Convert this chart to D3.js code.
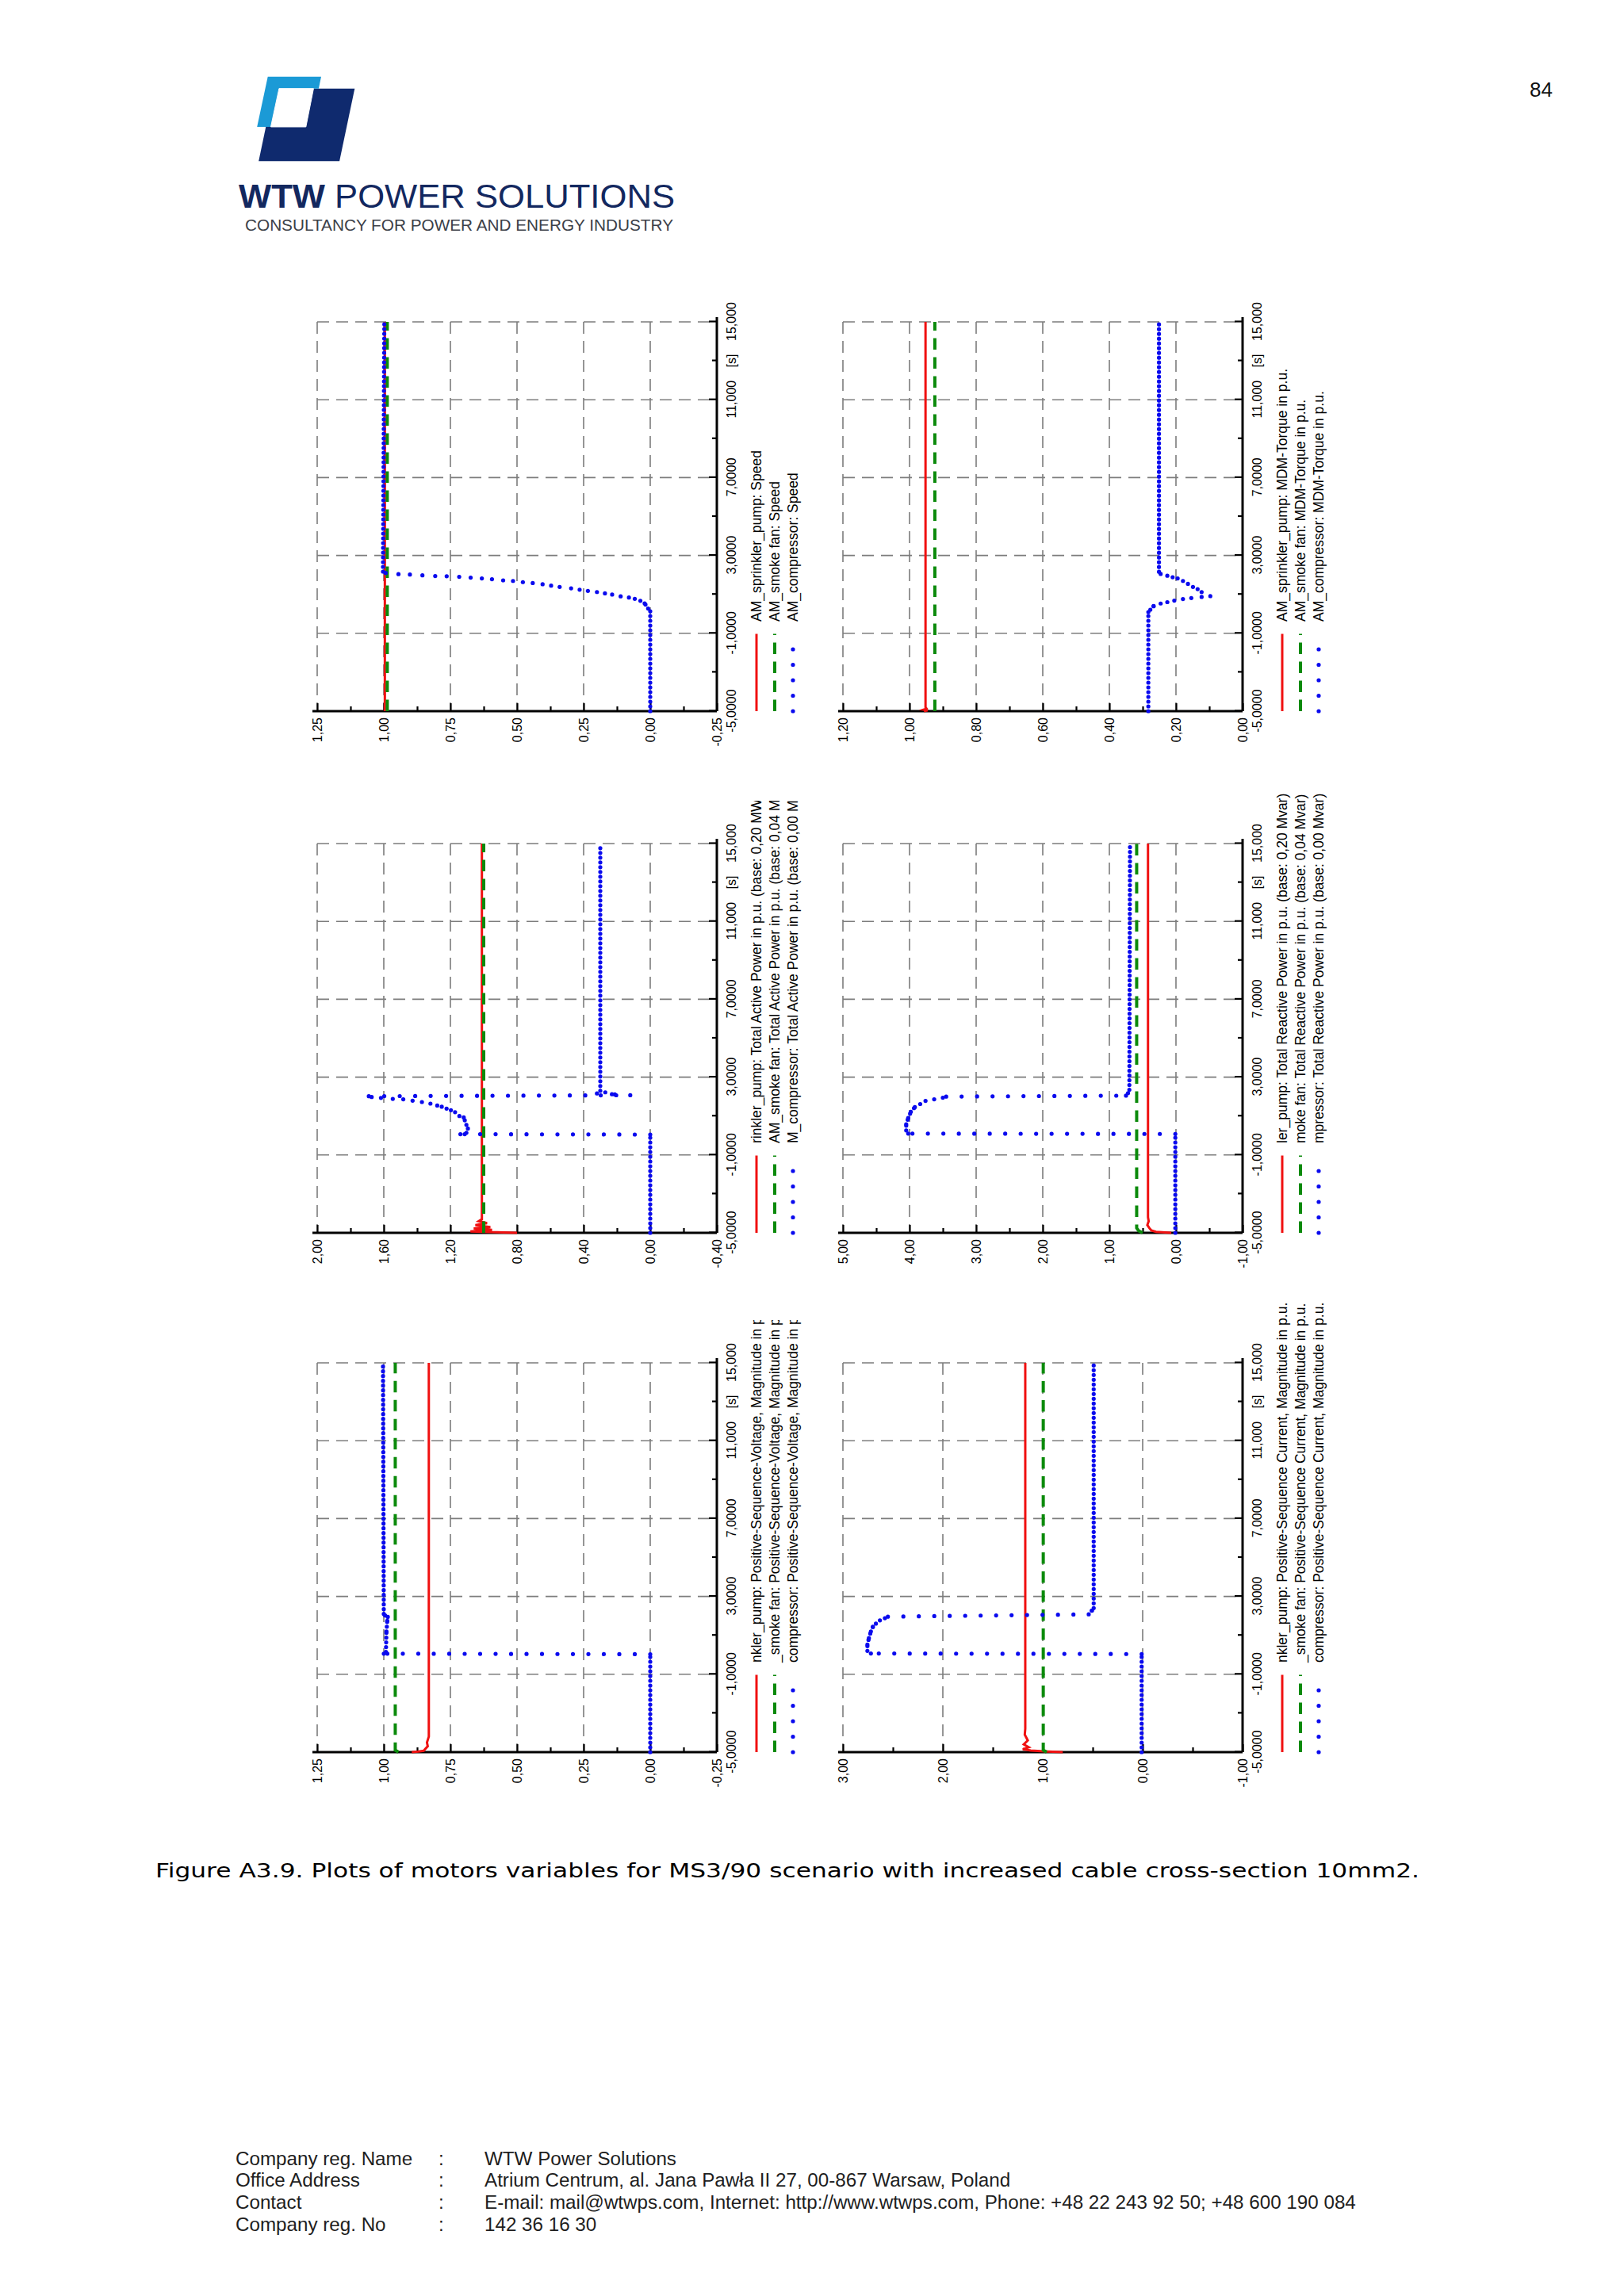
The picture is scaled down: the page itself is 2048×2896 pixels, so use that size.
<!DOCTYPE html>
<html>
<head>
<meta charset="utf-8">
<script src="https://cdn.jsdelivr.net/npm/d3@7"></script>
<style>
body { margin: 0; background: #fff; }
svg text { font-family: "Liberation Sans", Arial, sans-serif; }
</style>
</head>
<body>
<svg id="page" width="2048" height="2896"></svg>
<script>

// time axis, the same for all six plots
var timeTicks = [-5, -1, 3, 7, 11, 15]
var timeTickLabels = ["-5,0000", "-1,0000", "3,0000", "7,0000", "11,000", "15,000"]
var timeMinor = [-3, 1, 5, 9, 13]

// plot 1 - speed
var speedTicks = [-0.25, 0, 0.25, 0.5, 0.75, 1, 1.25]
var speedLabels = ["-0,25", "0,00", "0,25", "0,50", "0,75", "1,00", "1,25"]
var speedLegend = ["AM_sprinkler_pump: Speed", "AM_smoke fan: Speed", "AM_compressor: Speed"]
var speedPumpT = [-5, 15]
var speedPumpV = [0.996, 0.996]
var speedFanT = [-5, 15]
var speedFanV = [0.987, 0.987]
var speedCompT = [-5, 0.13, 0.27, 0.54, 0.67, 0.77, 0.84, 0.90, 0.99, 1.05, 1.12, 1.18, 1.24, 1.31, 1.38, 1.45, 1.52, 1.58, 1.63, 1.69, 1.72, 1.78, 1.82, 1.86, 1.90, 1.93, 1.94, 1.98, 2.02, 2.04, 2.10, 2.17, 15]
var speedCompV = [0, 0, 0.008, 0.021, 0.037, 0.058, 0.08, 0.111, 0.143, 0.17, 0.20, 0.234, 0.265, 0.297, 0.34, 0.372, 0.404, 0.441, 0.478, 0.515, 0.552, 0.594, 0.632, 0.674, 0.717, 0.764, 0.807, 0.855, 0.902, 0.945, 0.993, 1.003, 0.998]

// plot 2 - torque
var torqueTicks = [0, 0.2, 0.4, 0.6, 0.8, 1.0, 1.2]
var torqueLabels = ["0,00", "0,20", "0,40", "0,60", "0,80", "1,00", "1,20"]
var torqueLegend = ["AM_sprinkler_pump: MDM-Torque in p.u.", "AM_smoke fan: MDM-Torque in p.u.", "AM_compressor: MDM-Torque in p.u."]
var torquePumpT = [-5, -4.96, -4.92, -4.87, -4.8, 15]
var torquePumpV = [0.957, 0.946, 0.958, 0.949, 0.952, 0.952]
var torqueFanT = [-5, 15]
var torqueFanV = [0.924, 0.924]
var torqueCompT = [-5, 0.09, 0.21, 0.40, 0.53, 0.60, 0.68, 0.76, 0.81, 0.87, 0.91, 1.12, 1.27, 1.38, 1.54, 1.69, 1.82, 1.88, 1.96, 2.05, 2.16, 15]
var torqueCompV = [0.283, 0.283, 0.277, 0.267, 0.246, 0.226, 0.205, 0.179, 0.154, 0.123, 0.097, 0.123, 0.135, 0.149, 0.164, 0.179, 0.195, 0.21, 0.226, 0.246, 0.251, 0.251]

// plot 3 - active power
var pActTicks = [-0.4, 0, 0.4, 0.8, 1.2, 1.6, 2.0]
var pActLabels = ["-0,40", "0,00", "0,40", "0,80", "1,20", "1,60", "2,00"]
var pActLegend = ["rinkler_pump: Total Active Power in p.u. (base: 0,20 MW", "AM_smoke fan: Total Active Power in p.u. (base: 0,04 MW", "M_compressor: Total Active Power in p.u. (base: 0,00 MW"]
var pActPumpT = [-5, -4.93, -4.85, -4.78, -4.7, -4.6, -4.5, -4.4, -4.3, 15]
var pActPumpV = [0.80, 1.08, 0.95, 1.06, 0.96, 1.05, 0.98, 1.03, 1.011, 1.011]
var pActFanT = [-5, 15]
var pActFanV = [1.0, 1.0]
var pActCompT = [-5, 0.05, 0.07, 0.14, 0.36, 0.55, 0.93, 1.0, 1.2, 1.3, 1.38, 1.48, 1.54, 1.64, 1.72, 1.79, 1.86, 1.88, 1.93, 1.98, 2.02, 2.07, 2.12, 2.16, 2.22, 2.3, 15]
var pActCompV = [0, 0, 1.14, 1.104, 1.095, 1.104, 1.12, 1.146, 1.172, 1.197, 1.223, 1.252, 1.279, 1.32, 1.371, 1.427, 1.483, 1.546, 1.617, 1.673, 1.69, 0.12, 0.23, 0.32, 0.27, 0.30, 0.30]

// plot 4 - reactive power
var qTicks = [-1, 0, 1, 2, 3, 4, 5]
var qLabels = ["-1,00", "0,00", "1,00", "2,00", "3,00", "4,00", "5,00"]
var qLegend = ["ler_pump: Total Reactive Power in p.u. (base: 0,20 Mvar)", "moke fan: Total Reactive Power in p.u. (base: 0,04 Mvar)", "mpressor: Total Reactive Power in p.u. (base: 0,00 Mvar)"]
var qPumpT = [-5, -4.95, -4.88, -4.75, -4.6, -4.4, -4.2, 15]
var qPumpV = [0.07, 0.30, 0.37, 0.40, 0.43, 0.41, 0.42, 0.42]
var qFanT = [-5, -4.9, -4.75, 15]
var qFanV = [0.50, 0.56, 0.59, 0.59]
var qCompT = [-5, 0.08, 0.10, 0.26, 0.58, 0.90, 1.22, 1.46, 1.62, 1.78, 1.86, 1.94, 2.0, 2.05, 2.18, 2.35, 15]
var qCompV = [0.01, 0.01, 4.02, 4.05, 4.05, 4.02, 3.98, 3.92, 3.84, 3.76, 3.63, 3.5, 3.45, 0.75, 0.72, 0.70, 0.69]

// plot 5 - positive sequence voltage
var voltTicks = [-0.25, 0, 0.25, 0.5, 0.75, 1, 1.25]
var voltLabels = ["-0,25", "0,00", "0,25", "0,50", "0,75", "1,00", "1,25"]
var voltLegend = ["nkler_pump: Positive-Sequence-Voltage, Magnitude in p.u.", "_smoke fan: Positive-Sequence-Voltage, Magnitude in p.u.", "compressor: Positive-Sequence-Voltage, Magnitude in p.u."]
var voltPumpT = [-5, -4.97, -4.93, -4.85, -4.7, -4.5, -4.2, 15]
var voltPumpV = [0.895, 0.87, 0.85, 0.845, 0.835, 0.838, 0.831, 0.831]
var voltFanT = [-5, -4.9, 15]
var voltFanV = [0.945, 0.957, 0.957]
var voltCompT = [-5, 0.03, 0.06, 0.15, 1.2, 1.75, 1.95, 2.02, 2.1, 15]
var voltCompV = [0, 0, 1.0, 0.992, 0.99, 0.987, 0.985, 0.995, 1.0, 1.003]

// plot 6 - positive sequence current
var currTicks = [-1, 0, 1, 2, 3]
var currLabels = ["-1,00", "0,00", "1,00", "2,00", "3,00"]
var currLegend = ["nkler_pump: Positive-Sequence Current, Magnitude in p.u.", "_smoke fan: Positive-Sequence Current, Magnitude in p.u.", "compressor: Positive-Sequence Current, Magnitude in p.u."]
var currPumpT = [-5, -4.97, -4.92, -4.85, -4.75, -4.6, -4.4, -4.1, -3.8, 15]
var currPumpV = [0.80, 0.95, 1.12, 1.20, 1.14, 1.19, 1.15, 1.18, 1.175, 1.175]
var currFanT = [-5, -4.9, 15]
var currFanV = [0.96, 0.995, 0.995]
var currCompT = [-5, 0.04, 0.07, 0.2, 0.53, 0.86, 1.2, 1.44, 1.6, 1.77, 1.88, 1.96, 2.08, 2.27, 2.4, 15]
var currCompV = [0.01, 0.01, 2.72, 2.755, 2.755, 2.74, 2.72, 2.70, 2.67, 2.63, 2.58, 2.55, 0.54, 0.508, 0.49, 0.49]

// page texts
var pageNumber = "84"
var caption = "Figure A3.9. Plots of motors variables for MS3/90 scenario with increased cable cross-section 10mm2."
var footerLabels = ["Company reg. Name", "Office Address", "Contact", "Company reg. No"]
var footerValues = ["WTW Power Solutions", "Atrium Centrum, al. Jana Pawła II 27, 00-867 Warsaw, Poland", "E-mail: mail@wtwps.com, Internet: http://www.wtwps.com, Phone: +48 22 243 92 50; +48 600 190 084", "142 36 16 30"]


var svg = d3.select("#page")
svg.append("rect").attr("width", 2048).attr("height", 2896).attr("fill", "#ffffff")
var defs = svg.append("defs")

// page is landscape plots turned on their side
var colX = [400, 1063]          // left edge (value max) of each column
var rowY = [897, 1555, 2210]    // bottom edge (t = -5) of each row
var plotW = 491, plotH = 504    // time length, value length
colors = { pump: "#f01010", fan: "#0b8a0b", comp: "#0a0aee" }

var plots = [
    { col: 0, row: 0, ticks: speedTicks, labels: speedLabels, legend: speedLegend, pT: speedPumpT, pV: speedPumpV, fT: speedFanT, fV: speedFanV, cT: speedCompT, cV: speedCompV, clipW: 560 },
    { col: 1, row: 0, ticks: torqueTicks, labels: torqueLabels, legend: torqueLegend, pT: torquePumpT, pV: torquePumpV, fT: torqueFanT, fV: torqueFanV, cT: torqueCompT, cV: torqueCompV, clipW: 580 },
    { col: 0, row: 1, ticks: pActTicks, labels: pActLabels, legend: pActLegend, pT: pActPumpT, pV: pActPumpV, fT: pActFanT, fV: pActFanV, cT: pActCompT, cV: pActCompV, clipW: 545 },
    { col: 1, row: 1, ticks: qTicks, labels: qLabels, legend: qLegend, pT: qPumpT, pV: qPumpV, fT: qFanT, fV: qFanV, cT: qCompT, cV: qCompV, clipW: 580 },
    { col: 0, row: 2, ticks: voltTicks, labels: voltLabels, legend: voltLegend, pT: voltPumpT, pV: voltPumpV, fT: voltFanT, fV: voltFanV, cT: voltCompT, cV: voltCompV, clipW: 545 },
    { col: 1, row: 2, ticks: currTicks, labels: currLabels, legend: currLegend, pT: currPumpT, pV: currPumpV, fT: currFanT, fV: currFanV, cT: currCompT, cV: currCompV, clipW: 580 }
]

function styleAxis(sel) {
    sel.select(".domain").remove()
    sel.selectAll("line").attr("stroke", "#000").attr("stroke-width", 2.2)
    sel.selectAll("text").attr("font-size", 16).attr("font-family", "'Liberation Sans', Arial, sans-serif").attr("fill", "#000")
}

function plotMotorChart(p, idx) {
    var g = svg.append("g")
        .attr("transform", "translate(" + colX[p.col] + "," + rowY[p.row] + ") rotate(-90)")

    var x = d3.scaleLinear().domain([-5, 15]).range([0, plotW])
    var y = d3.scaleLinear().domain(d3.extent(p.ticks)).range([plotH, 0])

    // dashed grid
    g.append("g").selectAll("line")
        .data(p.ticks)
        .enter().append("line")
        .attr("x1", plotW).attr("x2", 0)
        .attr("y1", d => y(d)).attr("y2", d => y(d))
        .attr("stroke", "#7c7c7c").attr("stroke-width", 1.6).attr("stroke-dasharray", "15 9")
    g.append("g").selectAll("line")
        .data(timeTicks.slice(1))
        .enter().append("line")
        .attr("x1", d => x(d)).attr("x2", d => x(d))
        .attr("y1", 0).attr("y2", plotH)
        .attr("stroke", "#7c7c7c").attr("stroke-width", 1.6).attr("stroke-dasharray", "15 9")

    // value axis (drawn at t = -5), ticks point into the plot
    var minor = d3.pairs(p.ticks).map(d => (d[0] + d[1]) / 2)
    g.append("g")
        .call(d3.axisLeft(y).tickValues(p.ticks).tickFormat((d, i) => p.labels[i])
            .tickSizeInner(-10).tickSizeOuter(0).tickPadding(8))
        .call(styleAxis)
    g.append("g")
        .call(d3.axisLeft(y).tickValues(minor).tickFormat("").tickSizeInner(-6).tickSizeOuter(0))
        .call(styleAxis)

    // time axis
    var tAxis = g.append("g")
        .attr("transform", "translate(0," + plotH + ")")
        .call(d3.axisBottom(x).tickValues(timeTicks).tickFormat((d, i) => timeTickLabels[i])
            .tickSizeInner(-10).tickSizeOuter(0).tickPadding(13))
        .call(styleAxis)
    g.append("g")
        .attr("transform", "translate(0," + plotH + ")")
        .call(d3.axisBottom(x).tickValues(timeMinor).tickFormat("").tickSizeInner(-6).tickSizeOuter(0))
        .call(styleAxis)
    tAxis.append("text")
        .attr("x", x(13)).attr("y", 13).attr("dy", "0.71em")
        .attr("text-anchor", "middle").attr("font-size", 16).attr("fill", "#000")
        .text("[s]")

    g.append("line").attr("x1", 0).attr("x2", 0).attr("y1", plotH).attr("y2", -6)
        .attr("stroke", "#000").attr("stroke-width", 3)
    g.append("line").attr("x1", 0).attr("x2", plotW + 6).attr("y1", plotH).attr("y2", plotH)
        .attr("stroke", "#000").attr("stroke-width", 3)

    // curves
    var line = d3.line().x(d => x(d[0])).y(d => y(d[1]))

    g.append("path").datum(d3.zip(p.pT, p.pV))
        .attr("d", line).attr("fill", "none")
        .attr("stroke", colors.pump).attr("stroke-width", 3)

    g.append("path").datum(d3.zip(p.fT, p.fV))
        .attr("d", line).attr("fill", "none")
        .attr("stroke", colors.fan).attr("stroke-width", 4).attr("stroke-dasharray", "14.5 9.5")

    // compressor: dotted, the pattern starts again on every step
    g.append("g").selectAll("path")
        .data(d3.pairs(d3.zip(p.cT, p.cV)))
        .enter().append("path")
        .attr("d", d => line(d))
        .attr("fill", "none")
        .attr("stroke", colors.comp).attr("stroke-width", 5.2).attr("stroke-linecap", "round")
        .attr("stroke-dasharray", function (d) {
            var dt = Math.abs(x(d[1][0]) - x(d[0][0]))
            var dv = Math.abs(y(d[1][1]) - y(d[0][1]))
            return dt >= dv ? "0 6" : "0 19.5"
        })

    // legend under the time axis
    defs.append("clipPath").attr("id", "legclip" + idx)
        .append("rect").attr("x", -10).attr("y", plotH + 25)
        .attr("width", p.clipW + 10).attr("height", 95)

    var rows = [plotH + 50, plotH + 73, plotH + 96]
    var kinds = [
        { stroke: colors.pump, width: 3, dash: null, cap: "butt" },
        { stroke: colors.fan, width: 4, dash: "14.5 9.5", cap: "butt" },
        { stroke: colors.comp, width: 5.2, dash: "0 19.5", cap: "round" }
    ]
    var legend = g.append("g").attr("clip-path", "url(#legclip" + idx + ")")

    legend.selectAll("line")
        .data(kinds)
        .enter().append("line")
        .attr("x1", 0).attr("x2", 97.5)
        .attr("y1", (d, i) => rows[i]).attr("y2", (d, i) => rows[i])
        .attr("stroke", d => d.stroke).attr("stroke-width", d => d.width)
        .attr("stroke-dasharray", d => d.dash).attr("stroke-linecap", d => d.cap)

    legend.selectAll("text")
        .data(p.legend)
        .enter().append("text")
        .attr("x", 113).attr("y", (d, i) => rows[i]).attr("dy", "0.35em")
        .attr("font-size", 17.5).attr("fill", "#000")
        .text(d => d)
}

plots.forEach(plotMotorChart)


// header: page number and logo
svg.append("text").attr("x", 1958).attr("y", 122).attr("text-anchor", "end")
    .attr("font-size", 26).attr("fill", "#111").text(pageNumber)

var logoDark = [[345.4, 111.7], [447.3, 111.7], [428.1, 203.3], [326.2, 203.3]]
var logoLight = [[337.7, 96.7], [405, 96.7], [401.9, 111.7], [351.9, 111.7], [341.5, 160], [324.2, 160]]
var logoNotch = [[351.9, 111.7], [395.4, 111.7], [385.8, 160], [341.5, 160]]
svg.append("polygon").attr("points", logoDark.join(" ")).attr("fill", "#0f2a6e")
svg.append("polygon").attr("points", logoLight.join(" ")).attr("fill", "#1b9ad6")
svg.append("polygon").attr("points", logoNotch.join(" ")).attr("fill", "#ffffff")
    .attr("stroke", "#ffffff").attr("stroke-width", 1).attr("stroke-linejoin", "round")

var brand = svg.append("text").attr("x", 301).attr("y", 262)
    .attr("font-size", 42).attr("fill", "#13285f")
    .attr("textLength", 550).attr("lengthAdjust", "spacingAndGlyphs")
brand.append("tspan").attr("font-weight", "bold").text("WTW")
brand.append("tspan").text(" POWER SOLUTIONS")

svg.append("text").attr("x", 309).attr("y", 291)
    .attr("font-size", 19.5).attr("fill", "#3c4048")
    .attr("textLength", 540).attr("lengthAdjust", "spacingAndGlyphs")
    .text("CONSULTANCY FOR POWER AND ENERGY INDUSTRY")

// caption
svg.append("text").attr("x", 196).attr("y", 2368)
    .attr("font-size", 25).attr("fill", "#000")
    .style("font-family", "'DejaVu Sans', Verdana, sans-serif")
    .attr("textLength", 1594).attr("lengthAdjust", "spacingAndGlyphs")
    .text(caption)

// footer
var footY = [2731, 2758, 2786, 2814]
var foot = svg.append("g").attr("font-size", 24.2).attr("fill", "#1e1e1e")
foot.selectAll(".flab").data(footerLabels).enter().append("text")
    .attr("class", "flab").attr("x", 297).attr("y", (d, i) => footY[i]).text(d => d)
foot.selectAll(".fcol").data(footerLabels).enter().append("text")
    .attr("class", "fcol").attr("x", 553).attr("y", (d, i) => footY[i]).text(":")
foot.selectAll(".fval").data(footerValues).enter().append("text")
    .attr("class", "fval").attr("x", 611).attr("y", (d, i) => footY[i]).text(d => d)

</script>
</body>
</html>
